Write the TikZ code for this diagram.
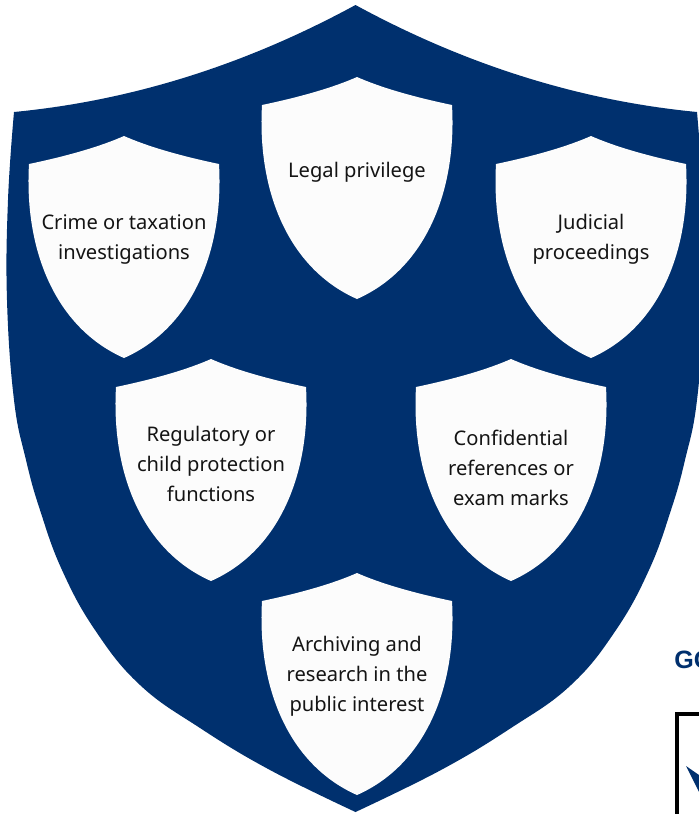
\documentclass[tikz,border=0pt]{standalone}
\usepackage{fontspec}
\setmainfont{Noto Sans}
\newfontfamily\gofont{Liberation Sans}
\definecolor{navy}{RGB}{0,48,110}
\definecolor{shieldwhite}{RGB}{252,252,252}
\definecolor{txt}{RGB}{20,20,20}
\tikzset{
  minishield/.pic={
    \fill[shieldwhite] (0,0) .. controls (-23.3,10.3) and (-55,19.6) .. (-95,28)
      .. controls (-100,115) and (-68,192) .. (0,222)
      .. controls (68,192) and (100,115) .. (95,28)
      .. controls (55,19.6) and (23.3,10.3) .. (0,0) -- cycle;
  },
  label/.style={text=txt, align=center, font=\fontsize{15.1pt}{22.5pt}\selectfont, inner sep=0pt}
}
\begin{document}
\begin{tikzpicture}[x=0.75pt,y=-0.75pt]
\useasboundingbox (0,0) rectangle (699,814);
\clip (0,0) rectangle (699,814);
\fill[white] (0,0) rectangle (699,814);
% big shield
\fill[navy] (355.5,5) .. controls (245.2,65) and (131.3,100.7) .. (14,112)
  -- plot[smooth,tension=0.7] coordinates {(14,112) (8,200) (7,300) (14,400) (26,460) (40,510) (62,570) (95,630) (140,685) (200,728) (270,770) (355.5,812)}
  -- plot[smooth,tension=0.7] coordinates {(355.5,812) (441,770) (511,728) (571,685) (616,630) (649,570) (671,510) (685,460) (697,400) (704,300) (703,200) (697,112)}
  .. controls (579.7,100.7) and (465.8,65) .. (355.5,5) -- cycle;
% small shields
\pic (s1) at (357,77) {minishield};
\pic (s2) at (124,136) {minishield};
\pic (s3) at (591,136) {minishield};
\pic (s4) at (211,359) {minishield};
\pic (s5) at (511,359) {minishield};
\pic (s6) at (357,573) {minishield};
\node[label] (t1) at (357,172) {Legal privilege};
\node[label] (t2) at (124,239) {Crime or taxation\\investigations};
\node[label] (t3) at (591,239) {Judicial\\proceedings};
\node[label] (t4) at (211,464) {Regulatory or\\child protection\\functions};
\node[label] (t5) at (511,468) {Confidential\\references or\\exam marks};
\node[label] (t6) at (357,676) {Archiving and\\research in the\\public interest};
% cut-off elements at right edge
\node[anchor=base west, inner sep=0pt, text=navy, font=\gofont\bfseries\fontsize{18.8pt}{20pt}\selectfont] (go) at (674,668) {GO};
\draw[line width=2.4pt] (677,714) rectangle (780,900);
\fill[navy] (686,766) .. controls (692,771) .. (699,775) -- (699,792) .. controls (694,782) .. (686,766) -- cycle;
\end{tikzpicture}
\end{document}
